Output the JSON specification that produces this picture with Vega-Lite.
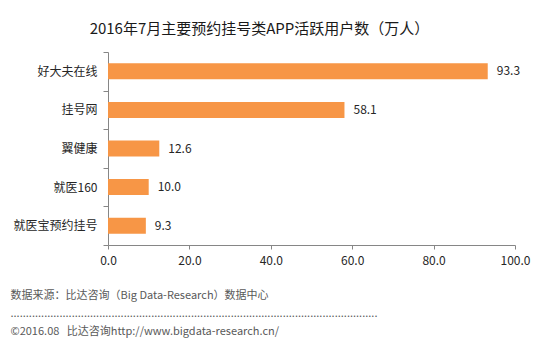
{
  "$schema": "https://vega.github.io/schema/vega-lite/v6.json",
  "width": 407,
  "height": 193,
  "autosize": "none",
  "padding": {"left": 108, "top": 52, "right": 41, "bottom": 106},
  "background": "#ffffff",
  "config": {
    "font": "Noto Sans CJK SC",
    "view": {"stroke": null}
  },
  "title": {
    "text": "2016年7月主要预约挂号类APP活跃用户数（万人）",
    "fontSize": 15,
    "fontWeight": "normal",
    "color": "#1a1a1a",
    "anchor": "middle",
    "dx": -52,
    "offset": 9
  },
  "data": {
    "values": [
      {"app": "好大夫在线", "users": 93.3},
      {"app": "挂号网", "users": 58.1},
      {"app": "翼健康", "users": 12.6},
      {"app": "就医160", "users": 10.0},
      {"app": "就医宝预约挂号", "users": 9.3}
    ]
  },
  "encoding": {
    "y": {
      "field": "app",
      "type": "nominal",
      "sort": null,
      "scale": {"paddingInner": 0, "paddingOuter": 0},
      "axis": {
        "title": null,
        "tickBand": "extent",
        "labelFontSize": 12,
        "labelColor": "#262626",
        "labelPadding": 6,
        "tickSize": 5,
        "tickColor": "#868686",
        "domainColor": "#868686"
      }
    },
    "x": {
      "field": "users",
      "type": "quantitative",
      "scale": {"domain": [0, 100], "nice": false},
      "axis": {
        "values": [0, 20, 40, 60, 80, 100],
        "format": ".1f",
        "grid": false,
        "labelFlush": false,
        "labelFontSize": 12,
        "labelColor": "#262626",
        "labelPadding": 6,
        "tickSize": 4,
        "tickColor": "#868686",
        "domainColor": "#868686",
        "title": [
          "数据来源：比达咨询（Big Data-Research）数据中心",
          "........................................................................................................................",
          "©2016.08\u00a0\u00a0\u00a0比达咨询http://www.bigdata-research.cn/"
        ],
        "titleFontSize": 11,
        "titleFontWeight": "normal",
        "titleColor": "#595959",
        "titleAnchor": "start",
        "titleAlign": "left",
        "titleBaseline": "top",
        "titleLineHeight": 18,
        "titleX": -98,
        "titleY": 44
      }
    }
  },
  "layer": [
    {
      "mark": {"type": "bar", "size": 16, "color": "#F79646"}
    },
    {
      "mark": {"type": "text", "align": "left", "dx": 9, "fontSize": 12, "color": "#262626"},
      "encoding": {
        "text": {"field": "users", "type": "quantitative", "format": ".1f"}
      }
    }
  ]
}
